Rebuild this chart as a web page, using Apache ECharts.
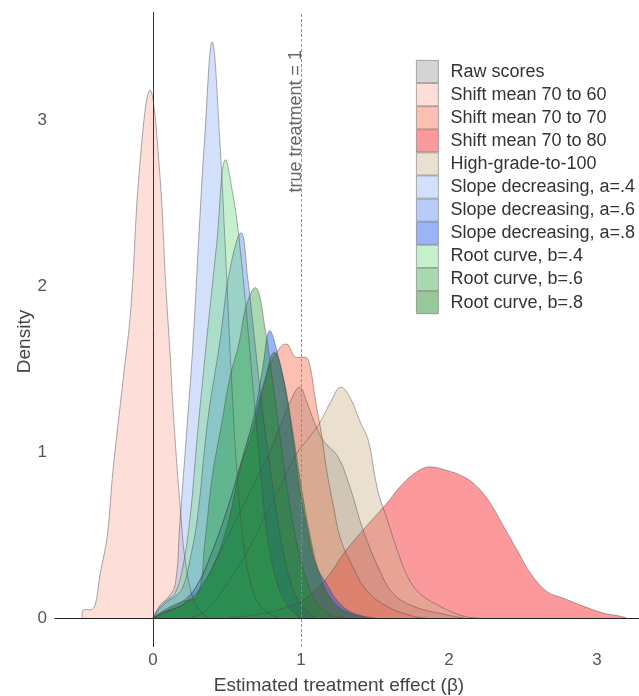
<!DOCTYPE html>
<html>
<head>
<meta charset="utf-8">
<script src="https://cdn.jsdelivr.net/npm/echarts@6/dist/echarts.min.js"></script>
<style>html,body{margin:0;padding:0;background:#fff}#chart{width:639px;height:696px}</style>
</head>
<body>
<div id="chart"></div>
<script>
// ---- data: [beta, density] pairs ----
const seriesNames = ["Raw scores","Shift mean 70 to 60","Shift mean 70 to 70","Shift mean 70 to 80","High-grade-to-100","Slope decreasing, a=.4","Slope decreasing, a=.6","Slope decreasing, a=.8","Root curve, b=.4","Root curve, b=.6","Root curve, b=.8"];

const rawScores = [[0,0],[0.05,0.03],[0.12,0.05],[0.2,0.08],[0.3,0.16],[0.4,0.3],[0.5,0.48],[0.6,0.66],[0.7,0.84],[0.78,0.98],[0.86,1.16],[0.93,1.31],[0.99,1.39],[1.04,1.3],[1.09,1.18],[1.15,1.07],[1.25,0.97],[1.33,0.79],[1.42,0.53],[1.53,0.29],[1.62,0.15],[1.76,0.07],[1.98,0.02],[2.1,0]];
const shift60 = [[-0.48,0],[-0.47,0.05],[-0.42,0.05],[-0.39,0.08],[-0.36,0.25],[-0.31,0.49],[-0.27,0.89],[-0.2,1.45],[-0.15,1.86],[-0.09,2.72],[-0.02,3.18],[0.04,2.75],[0.09,1.95],[0.115,1.6],[0.14,1.2],[0.19,0.6],[0.22,0.33],[0.27,0.12],[0.32,0.04],[0.38,0]];
const shift70 = [[0,0],[0.1,0.04],[0.2,0.08],[0.3,0.2],[0.4,0.4],[0.5,0.65],[0.6,0.95],[0.7,1.25],[0.78,1.5],[0.86,1.63],[0.9,1.65],[0.97,1.57],[1.03,1.57],[1.06,1.52],[1.1,1.3],[1.14,1.1],[1.17,0.91],[1.22,0.67],[1.27,0.47],[1.35,0.31],[1.44,0.17],[1.58,0.07],[1.76,0.01],[1.85,0]];
const shift80 = [[0.5,0],[0.7,0.02],[0.85,0.05],[1.0,0.1],[1.1,0.17],[1.2,0.27],[1.29,0.39],[1.42,0.53],[1.57,0.68],[1.69,0.81],[1.8,0.89],[1.87,0.91],[1.98,0.89],[2.1,0.85],[2.19,0.79],[2.28,0.69],[2.37,0.55],[2.46,0.41],[2.55,0.27],[2.66,0.16],[2.77,0.12],[2.91,0.07],[3.04,0.03],[3.16,0.01],[3.2,0]];
const highGrade = [[0.25,0],[0.35,0.04],[0.45,0.14],[0.55,0.27],[0.65,0.42],[0.75,0.6],[0.86,0.79],[0.97,0.99],[1.05,1.08],[1.13,1.18],[1.2,1.3],[1.27,1.39],[1.33,1.33],[1.4,1.18],[1.455,1.07],[1.5,0.85],[1.53,0.73],[1.58,0.6],[1.65,0.41],[1.72,0.25],[1.8,0.15],[1.94,0.07],[2.1,0.01],[2.2,0]];
const slope4 = [[0,0],[0.05,0.08],[0.1,0.12],[0.15,0.2],[0.18,0.55],[0.23,1.15],[0.27,1.65],[0.31,2.3],[0.35,2.9],[0.4,3.47],[0.45,2.9],[0.49,2.2],[0.53,1.45],[0.57,0.85],[0.62,0.4],[0.68,0.15],[0.75,0.05],[0.85,0]];
const slope6 = [[0,0],[0.05,0.06],[0.1,0.1],[0.15,0.13],[0.2,0.18],[0.25,0.35],[0.3,0.6],[0.37,1.19],[0.45,1.65],[0.52,2.1],[0.595,2.32],[0.64,2.05],[0.69,1.65],[0.74,1.25],[0.8,0.85],[0.86,0.5],[0.92,0.25],[1.0,0.08],[1.1,0]];
const slope8 = [[0,0],[0.1,0.05],[0.2,0.1],[0.3,0.2],[0.4,0.4],[0.5,0.65],[0.6,0.95],[0.69,1.25],[0.74,1.5],[0.79,1.73],[0.84,1.6],[0.9,1.35],[0.95,1.05],[0.99,0.79],[1.05,0.5],[1.1,0.32],[1.17,0.21],[1.25,0.1],[1.35,0.03],[1.5,0]];
const root4 = [[0,0],[0.05,0.07],[0.1,0.11],[0.15,0.15],[0.2,0.3],[0.25,0.6],[0.3,1.1],[0.36,1.65],[0.43,2.25],[0.49,2.76],[0.54,2.55],[0.58,2.3],[0.63,1.85],[0.68,1.35],[0.73,0.85],[0.78,0.45],[0.85,0.18],[0.93,0.05],[1.0,0]];
const root6 = [[0,0],[0.1,0.06],[0.2,0.1],[0.3,0.13],[0.35,0.45],[0.4,0.85],[0.46,1.15],[0.52,1.45],[0.58,1.65],[0.63,1.88],[0.69,1.99],[0.76,1.73],[0.82,1.35],[0.88,0.95],[0.95,0.55],[1.02,0.28],[1.1,0.1],[1.2,0.02],[1.3,0]];
const root8 = [[0,0],[0.1,0.04],[0.2,0.08],[0.3,0.15],[0.4,0.3],[0.5,0.55],[0.59,0.9],[0.68,1.15],[0.75,1.4],[0.82,1.6],[0.88,1.45],[0.94,1.15],[1.0,0.8],[1.06,0.5],[1.12,0.28],[1.2,0.12],[1.3,0.04],[1.45,0]];

const xTicks = [0, 1, 2, 3];
const yTicks = [0, 1, 2, 3];
const trueTreatment = 1;

// ---- styling ----
const fills = ["rgba(148,148,148,0.4)","rgba(250,172,157,0.4)","rgba(247,97,62,0.4)","rgba(245,0,10,0.4)","rgba(205,178,138,0.4)","rgba(145,178,248,0.4)","rgba(78,128,243,0.4)","rgba(5,68,235,0.4)","rgba(110,218,128,0.4)","rgba(38,158,58,0.4)","rgba(0,115,8,0.4)"];
const allData = [rawScores, shift60, shift70, shift80, highGrade, slope4, slope6, slope8, root4, root6, root8];
const FONT = "Liberation Sans";

const series = allData.map((d, i) => ({
  name: seriesNames[i],
  type: 'line',
  data: d,
  smooth: 0.4,
  symbol: 'none',
  itemStyle: { color: fills[i] },
  lineStyle: { color: 'rgba(70,70,70,0.75)', width: 0.6 },
  areaStyle: { color: fills[i], opacity: 1, origin: 0 },
  emphasis: { disabled: true },
  silent: true,
  z: 2
}));

series.push({
  name: 'refs',
  type: 'line',
  data: [],
  silent: true,
  z: 5,
  markLine: {
    silent: true,
    symbol: 'none',
    animation: false,
    data: [
      { xAxis: 0, lineStyle: { color: '#333', width: 1, type: 'solid' }, label: { show: false } },
      { xAxis: trueTreatment, lineStyle: { color: '#8a8a8a', width: 0.9, type: [3, 2] },
        label: { show: true, formatter: 'true treatment = 1', position: 'insideEndTop', distance: [38, -4],
                 color: '#666', fontSize: 18, fontFamily: FONT } }
    ]
  }
});

const chart = echarts.init(document.getElementById('chart'), null, { renderer: 'canvas' });
chart.setOption({
  animation: false,
  backgroundColor: '#fff',
  grid: { left: 55, right: 0, top: 12, bottom: 49, containLabel: false, outerBoundsMode: 'none' },
  xAxis: {
    type: 'value', min: -0.662, max: 3.284,
    axisLine: { show: true, onZero: true, lineStyle: { color: '#222', width: 1.2 } },
    axisTick: { show: false },
    splitLine: { show: false },
    axisLabel: { customValues: xTicks, margin: 5, fontSize: 17, color: '#555', fontFamily: FONT },
    name: 'Estimated treatment effect (β)', nameLocation: 'middle', nameGap: 29, nameMoveOverlap: false,
    nameTextStyle: { fontSize: 19, color: '#444', fontFamily: FONT, padding: [0, 16, 0, 0] }
  },
  yAxis: {
    type: 'value', min: -0.175, max: 3.65,
    axisLine: { show: false },
    axisTick: { show: false },
    splitLine: { show: false },
    axisLabel: { customValues: yTicks, margin: 8, fontSize: 17, color: '#555', fontFamily: FONT },
    name: 'Density', nameLocation: 'middle', nameGap: 21, nameMoveOverlap: false,
    nameTextStyle: { fontSize: 19, color: '#444', fontFamily: FONT, padding: [0, 24, 0, 0] }
  },
  legend: {
    data: seriesNames,
    orient: 'vertical', left: 416, top: 60,
    itemWidth: 22, itemHeight: 22.3, itemGap: 0,
    icon: 'rect', padding: 0,
    selectedMode: false,
    itemStyle: { borderColor: 'rgba(90,90,90,0.6)', borderWidth: 0.8 },
    textStyle: { fontSize: 18, color: '#333', fontFamily: FONT, padding: [0, 0, 0, 7] }
  },
  series: series
});
</script>
</body>
</html>
